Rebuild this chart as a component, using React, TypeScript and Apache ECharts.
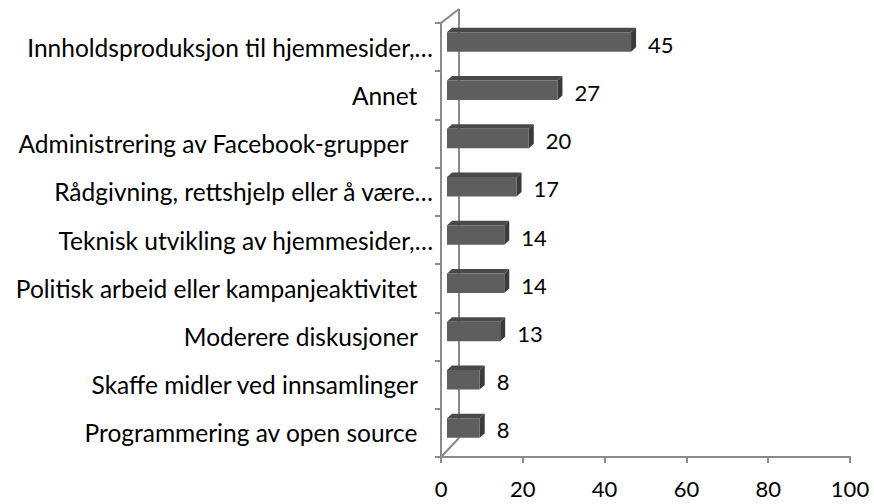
import React, { useEffect, useRef } from "react";
import * as echarts from "echarts";

const categories = [
  "Innholdsproduksjon til hjemmesider,…",
  "Annet",
  "Administrering av Facebook-grupper",
  "Rådgivning, rettshjelp eller å være…",
  "Teknisk utvikling av hjemmesider,…",
  "Politisk arbeid eller kampanjeaktivitet",
  "Moderere diskusjoner",
  "Skaffe midler ved innsamlinger",
  "Programmering av open source",
];
const values = [45, 27, 20, 17, 14, 14, 13, 8, 8];
const trailingSpaces = [0, 1, 2, 0, 0, 1, 1, 1, 1];
const xTicks = { min: 0, max: 100, interval: 20 };

const FONT = "Lato, 'Open Sans', sans-serif";
const AXIS_GRAY = "#8a8a8a";

export default function App() {
  const ref = useRef<HTMLDivElement>(null);
  useEffect(() => {
    if (!ref.current) return;
    const chart = echarts.init(ref.current, undefined, { renderer: "svg" });
    const pad = ["", "\u00a0\u00a0\u2009", "\u00a0\u00a0\u00a0\u00a0"];
    const labels = categories.map((c, i) => c + pad[trailingSpaces[i]]);
    chart.setOption({
      animation: false,
      backgroundColor: "#ffffff",
      grid: { left: 441, right: 24, top: 23, bottom: 47, containLabel: false },
      xAxis: {
        type: "value",
        min: xTicks.min,
        max: xTicks.max,
        interval: xTicks.interval,
        axisLine: { show: true, lineStyle: { color: AXIS_GRAY, width: 2 } },
        axisTick: { show: true, length: 6, lineStyle: { color: AXIS_GRAY, width: 2 } },
        splitLine: { show: false },
        axisLabel: { color: "#000", fontFamily: FONT, fontSize: 22, margin: 20 },
      },
      yAxis: {
        type: "category",
        inverse: true,
        data: labels,
        axisLine: { show: true, lineStyle: { color: AXIS_GRAY, width: 2 } },
        axisTick: { show: true, length: 6, lineStyle: { color: AXIS_GRAY, width: 2 } },
        axisLabel: { color: "#000", fontFamily: FONT, fontSize: 24.5, margin: 8, interval: 0 },
      },
      series: [
        {
          type: "custom",
          data: values.map((v, i) => [v, i]),
          renderItem: (params: any, api: any) => {
            const v = api.value(0);
            const i = api.value(1);
            const cs = params.coordSys;
            const p0 = api.coord([0, i]);
            const p1 = api.coord([v, i]);
            const off = 6;
            const x0 = p0[0] + off;
            const x1 = p1[0] + off;
            const yc = p0[1] - 5;
            const h = 19.5;
            const top = yc - h / 2;
            const bot = yc + h / 2;
            const dx = 5;
            const dy = -4.5;
            const children: any[] = [];
            if (params.dataIndex === 0) {
              const bx = cs.x + 18;
              children.push(
                { type: "line", shape: { x1: bx, y1: cs.y - 14, x2: bx, y2: cs.y + cs.height - 19 }, style: { stroke: AXIS_GRAY, lineWidth: 2 } },
                { type: "line", shape: { x1: cs.x, y1: cs.y, x2: bx, y2: cs.y - 14 }, style: { stroke: AXIS_GRAY, lineWidth: 2 } },
                { type: "line", shape: { x1: cs.x, y1: cs.y + cs.height, x2: bx, y2: cs.y + cs.height - 19 }, style: { stroke: AXIS_GRAY, lineWidth: 2 } }
              );
            }
            children.push(
              { type: "polygon", shape: { points: [[x0, top], [x0 + dx, top + dy], [x1 + dx, top + dy], [x1, top]] }, style: { fill: "#494949" } },
              { type: "polygon", shape: { points: [[x1, top], [x1 + dx, top + dy], [x1 + dx, bot + dy], [x1, bot]] }, style: { fill: "#3a3a3a" } },
              { type: "rect", shape: { x: x0, y: top, width: x1 - x0, height: h }, style: { fill: "#5e5e5e" } },
              {
                type: "text",
                x: x1 + 17,
                y: yc + 2,
                style: { text: String(v), fill: "#000", fontFamily: FONT, fontSize: 22, verticalAlign: "middle", align: "left" },
              }
            );
            return { type: "group", children };
          },
        },
      ],
    });
    return () => chart.dispose();
  }, []);
  return <div ref={ref} style={{ position: "absolute", left: 0, top: 0, width: 874, height: 504 }} />;
}
